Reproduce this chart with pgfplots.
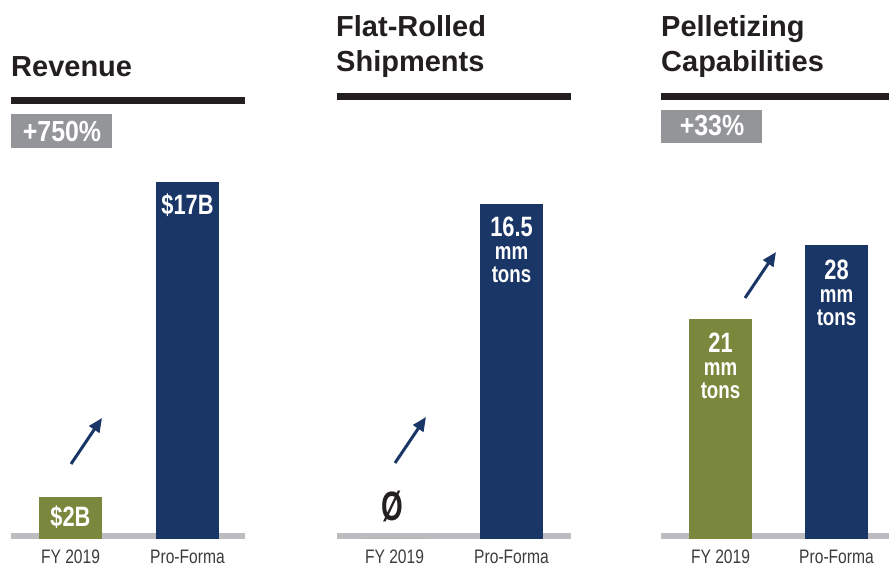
\documentclass[border=0pt]{standalone}
\usepackage{pgfplots}
\pgfplotsset{compat=1.18}
\usepackage{fontspec}
\setmainfont{Liberation Sans}
\newfontfamily\cond[FakeStretch=0.78]{Liberation Sans}
\newfontfamily\condz[FakeStretch=0.68]{Liberation Sans}
\newfontfamily\condp[FakeStretch=0.86]{Liberation Sans}
\newfontfamily\condt[FakeStretch=0.80]{Liberation Sans}
\usetikzlibrary{arrows.meta}
\definecolor{navy}{HTML}{1A3666}
\definecolor{ogreen}{HTML}{7A883D}
\definecolor{darkline}{HTML}{231F20}
\definecolor{boxgray}{HTML}{939598}
\definecolor{basegray}{HTML}{BCBDC0}
\definecolor{ticktext}{HTML}{3C3C3C}
\newcommand\titlefont{\bfseries\fontsize{29}{35}\selectfont}
\newcommand\numfont{\cond\bfseries\fontsize{28}{23}\selectfont}
\newcommand\unitfont{\fontsize{24}{23}\selectfont}
\pgfplotsset{
  panel/.style={
    ybar, scale only axis, height=400pt, ymin=0,
    hide y axis, axis x line*=bottom, x axis line style={draw=none},
    xtick={0,1}, xticklabels={FY 2019,Pro-Forma}, major tick length=0pt,
    xticklabel style={anchor=north, inner sep=0pt, yshift=-11pt,
      font=\condt\fontsize{19.5}{20}\selectfont, text=ticktext},
    anchor=south west, clip=false,
  },
  gbar/.style={fill=ogreen, draw=none, bar width=63pt, bar shift=0pt},
  nbar/.style={fill=navy, draw=none, bar width=63pt, bar shift=0pt},
}
\tikzset{lbl/.style={anchor=north, inner sep=0pt, align=center, text=white, font=\numfont}}
\begin{document}
\begin{tikzpicture}[x=1pt,y=1pt]
\useasboundingbox (0pt,0pt) rectangle (889pt,569pt);
% ---- titles
\node[anchor=base west, inner sep=0pt, text=darkline, font=\titlefont] at (11pt,492pt) {Revenue};
\node[anchor=base west, inner sep=0pt, text=darkline, font=\titlefont] at (336pt,532pt) {Flat-Rolled};
\node[anchor=base west, inner sep=0pt, text=darkline, font=\titlefont] at (336pt,497pt) {Shipments};
\node[anchor=base west, inner sep=0pt, text=darkline, font=\titlefont] at (661pt,532pt) {Pelletizing};
\node[anchor=base west, inner sep=0pt, text=darkline, font=\titlefont] at (661pt,497pt) {Capabilities};
% ---- rules
\fill[darkline] (11pt,465pt) rectangle (245pt,472pt);
\fill[darkline] (337pt,469pt) rectangle (571pt,476pt);
\fill[darkline] (661pt,469pt) rectangle (895pt,476pt);
% ---- percentage boxes
\fill[boxgray] (11pt,421pt) rectangle (112pt,455pt);
\node[text=white, inner sep=0pt, font=\condp\bfseries\fontsize{29}{30}\selectfont] at (62pt,437pt) {+750\%};
\fill[boxgray] (661pt,426pt) rectangle (762pt,459pt);
\node[text=white, inner sep=0pt, font=\condp\bfseries\fontsize{29}{30}\selectfont] at (712pt,443pt) {+33\%};
% ---- baselines
\fill[basegray] (11pt,30pt) rectangle (245pt,36pt);
\fill[basegray] (337pt,30pt) rectangle (571pt,36pt);
\fill[basegray] (661pt,30pt) rectangle (895pt,36pt);
% ---- arrows
\draw[navy, line width=3pt, -{Triangle[length=14pt,width=12pt]}] (71pt,105pt) -- (102pt,151pt);
\draw[navy, line width=3pt, -{Triangle[length=14pt,width=12pt]}] (395pt,106pt) -- (426pt,152pt);
\draw[navy, line width=3pt, -{Triangle[length=14pt,width=12pt]}] (745pt,271pt) -- (776pt,317pt);
% ---- Revenue
\begin{axis}[panel, at={(11pt,30pt)}, width=234pt, xmin=-0.5085, xmax=1.4915, ymax=19.048]
\addplot[gbar] coordinates {(0,2)};
\addplot[nbar] coordinates {(1,17)};
\node[lbl, yshift=-9pt] at (axis cs:0,2) {\$2B};
\node[lbl, yshift=-12pt] at (axis cs:1,17) {\$17B};
\end{axis}
% ---- Flat-Rolled Shipments
\begin{axis}[panel, at={(337pt,30pt)}, width=234pt, xmin=-0.4915, xmax=1.5085, ymax=19.70]
\addplot[gbar] coordinates {(0,0)};
\addplot[nbar] coordinates {(1,16.5)};
\node[anchor=center, inner sep=0pt, text=darkline, font=\condz\bfseries\fontsize{41}{41}\selectfont] at ([xshift=-2.5pt,yshift=33pt]axis cs:0,0) {Ø};
\node[lbl, yshift=-13pt] at (axis cs:1,16.5) {16.5\\{\unitfont mm}\\{\unitfont tons}};
\end{axis}
% ---- Pelletizing Capabilities
\begin{axis}[panel, at={(661pt,30pt)}, width=228pt, xmin=-0.513, xmax=1.4526, ymax=38.10]
\addplot[gbar] coordinates {(0,21)};
\addplot[nbar] coordinates {(1,28)};
\node[lbl, yshift=-14pt] at (axis cs:0,21) {21\\{\unitfont mm}\\{\unitfont tons}};
\node[lbl, yshift=-15pt] at (axis cs:1,28) {28\\{\unitfont mm}\\{\unitfont tons}};
\end{axis}
\end{tikzpicture}
\end{document}
